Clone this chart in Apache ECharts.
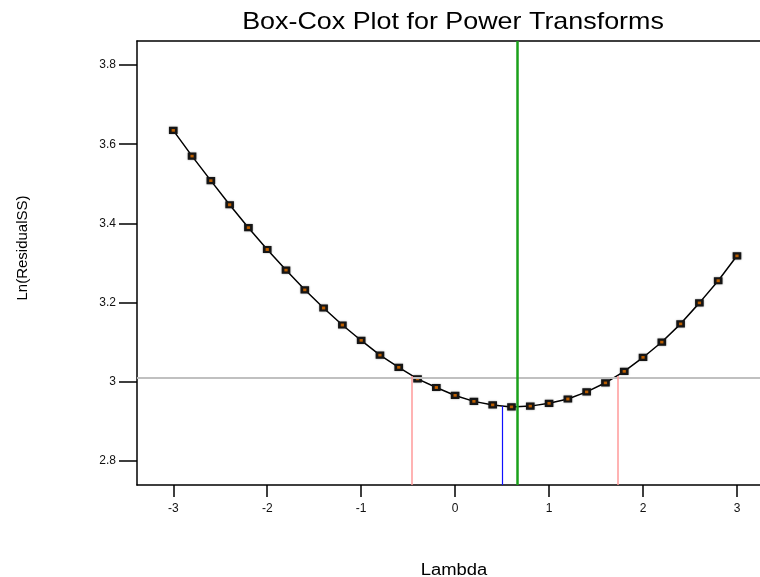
<!DOCTYPE html>
<html><head><meta charset="utf-8">
<script src="https://cdn.jsdelivr.net/npm/echarts@6/dist/echarts.min.js"></script>
<style>html,body{margin:0;padding:0;background:#fff}#c{width:760px;height:577px}</style>
</head><body><div id="c"></div>
<script>
const lambdas = [-3,-2.8,-2.6,-2.4,-2.2,-2,-1.8,-1.6,-1.4,-1.2,-1,-0.8,-0.6,-0.4,-0.2,0,0.2,0.4,0.6,0.8,1,1.2,1.4,1.6,1.8,2,2.2,2.4,2.6,2.8,3];
const lnResidualSS = [3.635,3.570,3.508,3.447,3.389,3.334,3.282,3.232,3.186,3.143,3.104,3.067,3.036,3.007,2.985,2.965,2.950,2.941,2.936,2.938,2.945,2.956,2.974,2.997,3.026,3.061,3.100,3.146,3.199,3.255,3.318];
const xTicks = [-3,-2,-1,0,1,2,3];
const yTicks = [2.8,3,3.2,3.4,3.6,3.8];
const ciLow = -0.46, ciHigh = 1.73;
const bestLambda = 0.5, bestLnRSS = 2.938;
const currentLambda = 0.66;
const ciThreshold = 3.0144;
const xMin = -3.386, xMax = 3.245, yMin = 2.7386, yMax = 3.861;

const FONT = 'Liberation Sans, Arial, sans-serif';
const chart = echarts.init(document.getElementById('c'), null, {renderer: 'canvas'});
const axisLineStyle = {color: '#000', width: 1.5};
chart.setOption({
  animation: false,
  backgroundColor: '#fff',
  grid: {left: 137, right: 0, top: 41, bottom: 92, containLabel: false},
  xAxis: [{
    type: 'value', min: xMin, max: xMax, position: 'bottom',
    axisLine: {show: true, onZero: false, lineStyle: axisLineStyle},
    axisTick: {show: true, length: 12, customValues: xTicks, lineStyle: axisLineStyle},
    axisLabel: {show: true, customValues: xTicks, margin: 18, color: '#111', fontSize: 12, fontFamily: FONT},
    splitLine: {show: false}
  }, {
    type: 'value', min: xMin, max: xMax, position: 'top',
    axisLine: {show: true, onZero: false, lineStyle: axisLineStyle},
    axisTick: {show: false}, axisLabel: {show: false}, splitLine: {show: false}
  }],
  yAxis: {
    type: 'value', min: yMin, max: yMax,
    axisLine: {show: true, onZero: false, lineStyle: axisLineStyle},
    axisTick: {show: true, length: 18, customValues: yTicks, lineStyle: axisLineStyle},
    axisLabel: {show: true, customValues: yTicks, margin: 21, color: '#111', fontSize: 12, fontFamily: FONT},
    splitLine: {show: false}
  },
  graphic: [
    {type: 'text', x: 453, y: 34, scaleX: 1.12, style: {text: 'Box-Cox Plot for Power Transforms', fontSize: 24, fontFamily: FONT, fill: '#000', align: 'center', verticalAlign: 'bottom'}},
    {type: 'text', x: 454, y: 571, scaleX: 1.15, style: {text: 'Lambda', fontSize: 16, fontFamily: FONT, fill: '#000', align: 'center', verticalAlign: 'middle'}},
    {type: 'text', x: 23, y: 248, rotation: Math.PI / 2, style: {text: 'Ln(ResidualSS)', fontSize: 15, fontFamily: FONT, fill: '#000', align: 'center', verticalAlign: 'middle'}}
  ],
  series: [{
    type: 'line', data: [], z: 1, silent: true,
    markLine: {
      silent: true, symbol: 'none', animation: false, label: {show: false},
      data: [
        {yAxis: ciThreshold, lineStyle: {color: '#c0c0c0', width: 2, type: 'solid'}},
        [{coord: [ciLow, yMin], lineStyle: {color: '#ff9a9a', width: 1.5, type: 'solid'}}, {coord: [ciLow, ciThreshold]}],
        [{coord: [ciHigh, yMin], lineStyle: {color: '#ff9a9a', width: 1.5, type: 'solid'}}, {coord: [ciHigh, ciThreshold]}],
        [{coord: [bestLambda, yMin], lineStyle: {color: '#1010ff', width: 1.2, type: 'solid'}}, {coord: [bestLambda, bestLnRSS]}]
      ]
    }
  }, {
    type: 'line', z: 2, silent: true,
    data: lambdas.map((l, i) => [l, lnResidualSS[i]]),
    lineStyle: {color: '#000', width: 1.5},
    symbol: 'rect', symbolSize: [6, 5], showSymbol: true,
    itemStyle: {color: '#d06800', borderColor: '#151515', borderWidth: 2.4, shadowBlur: 2, shadowColor: 'rgba(0,0,0,0.35)'}
  }, {
    type: 'line', data: [], z: 3, silent: true,
    markLine: {
      silent: true, symbol: 'none', animation: false, label: {show: false},
      data: [{xAxis: currentLambda, lineStyle: {color: '#1aa01a', width: 2.5, type: 'solid'}}]
    }
  }]
});
</script></body></html>
